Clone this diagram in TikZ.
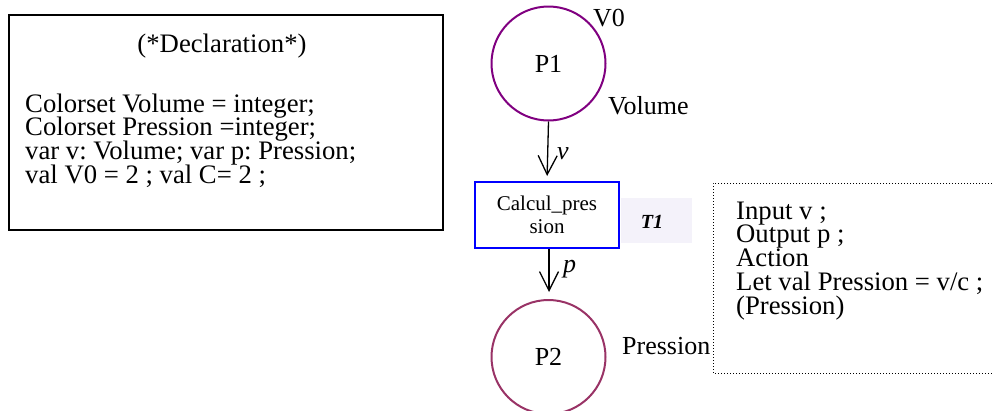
\documentclass[tikz,border=0pt]{standalone}
\usepackage{fontspec}
\setmainfont{Liberation Serif}
\usetikzlibrary{arrows.meta}
\definecolor{pone}{RGB}{128,0,128}
\definecolor{ptwo}{RGB}{153,51,102}
\definecolor{stip}{RGB}{244,242,250}
\frenchspacing
\begin{document}
\begin{tikzpicture}[x=1pt,y=-1pt,
  txt/.style={inner sep=0, anchor=base west, font=\fontsize{26}{26}\selectfont},
  block/.style={inner sep=0, anchor=base west, font=\fontsize{26.7}{23.8}\selectfont},
  lbl/.style={inner sep=0, anchor=base west, font=\fontsize{26}{26}\selectfont\itshape},
  place/.style={circle, line width=2pt, minimum size=114pt, inner sep=0, font=\fontsize{26}{26}\selectfont},
  trans/.style={rectangle, draw=blue, line width=2pt, minimum width=144pt, minimum height=66pt, inner sep=0, align=center, font=\fontsize{21}{23}\selectfont},
  arr/.style={line width=1.3pt, -{Straight Barb[length=19pt,width=19pt,line width=1.3pt]}}
]
\useasboundingbox (0,0) rectangle (994,410);
% declaration box
\node[draw, line width=2pt, minimum width=434pt, minimum height=215pt, inner sep=0] (decl) at (226,122.5) {};
\node[inner sep=0, anchor=base, font=\fontsize{26.7}{26}\selectfont] (dtitle) at (222,52) {(*Declaration*)};
\node[block] (dtext) at (25,112) {\vtop{\lineskiplimit=-100pt
  \hbox{Colorset Volume = integer;}
  \hbox{Colorset Pression =integer;}
  \hbox{var v: Volume; var p: Pression;}
  \hbox{val V0 = 2 ; val C= 2 ;}}};
% places
\node[place, draw=pone] (P1) at (548.5,63.5) {P1};
\node[place, draw=ptwo] (P2) at (548.5,357) {P2};
\node[txt] (v0) at (593,26) {V0};
\node[txt] (vol) at (608,114) {Volume};
\node[txt] (pres) at (622,354) {Pression};
% transition
\fill[stip] (621,198) rectangle (692,243);
\node[trans] (T) at (547,215) {Calcul\_pres\\sion};
\node[inner sep=0, font=\fontsize{20}{20}\selectfont\bfseries\itshape] (T1) at (652,222) {T1};
% arcs
\draw[arr, shorten >=5pt] (P1.south) -- (T.north);
\draw[arr, shorten >=7pt] (T.south -| 549,0) -- (P2.north -| 549,0);
\node[lbl] (lv) at (557,159) {v};
\node[lbl] (lp) at (563,272) {p};
% action box
\draw[line width=1pt, dash pattern=on 1pt off 2pt] (992,183) -- (713,183) -- (713,373) -- (992,373);
\node[block] (atext) at (736,219) {\vtop{\lineskiplimit=-100pt
  \hbox{Input v ;}
  \hbox{Output p ;}
  \hbox{Action}
  \hbox{Let val Pression = v/c ;}
  \hbox{(Pression)}}};
\end{tikzpicture}
\end{document}
